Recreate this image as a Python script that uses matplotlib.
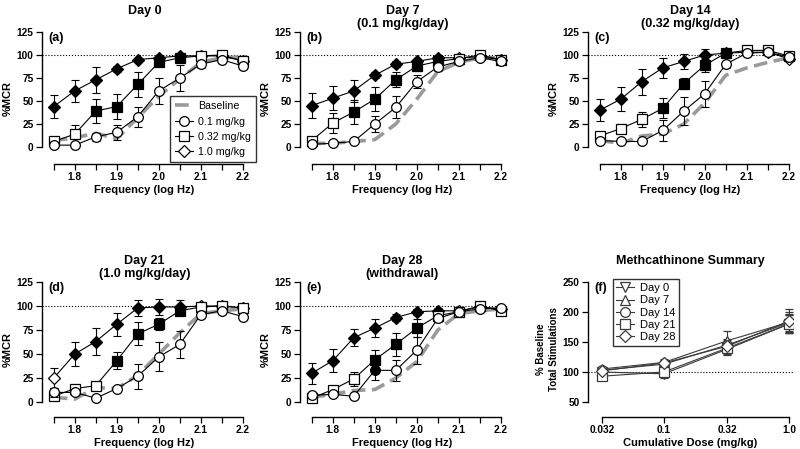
import matplotlib
matplotlib.use('Agg')
import matplotlib.pyplot as plt
from matplotlib.lines import Line2D
from matplotlib.ticker import FixedLocator, NullLocator, FixedFormatter

plt.rcParams['font.family'] = ['Liberation Sans', 'DejaVu Sans']
plt.rcParams['font.weight'] = 'bold'
plt.rcParams['axes.linewidth'] = 1.0

# frequency (log Hz)
freq = [1.75, 1.8, 1.85, 1.9, 1.95, 2.0, 2.05, 2.1, 2.15, 2.2]

# panel (a) Day 0
base_a = [7, 10, 15, 9, 32, 55, 74, 92, 97, 98]
circ_a = [2, 2, 11, 16, 33, 61, 75, 90, 95, 88]
circ_a_err = [2, 2, 4, 8, 11, 14, 14, 4, 3, 3]
circ_a_sig = [0, 0, 0, 0, 0, 0, 0, 0, 0, 0]
sq_a = [6, 14, 39, 44, 68, 92, 97, 99, 100, 93]
sq_a_err = [3, 10, 13, 14, 14, 4, 3, 3, 2, 3]
sq_a_sig = [0, 0, 1, 1, 1, 1, 1, 0, 0, 0]
dia_a = [44, 61, 73, 85, 95, 97, 99, 99, 99, 94]
dia_a_err = [12, 12, 14, 3, 2, 3, 3, 2, 2, 2]
dia_a_sig = [1, 1, 1, 1, 1, 1, 1, 0, 0, 0]

# panel (b) Day 7
base_b = [4, 4, 6, 8, 25, 52, 82, 92, 97, 97]
circ_b = [3, 4, 6, 25, 43, 71, 87, 93, 97, 93]
circ_b_err = [2, 2, 2, 9, 12, 7, 4, 3, 2, 3]
circ_b_sig = [0, 0, 0, 0, 0, 0, 0, 0, 0, 0]
sq_b = [7, 26, 38, 52, 73, 88, 93, 96, 100, 95]
sq_b_err = [3, 11, 13, 13, 8, 5, 4, 3, 2, 3]
sq_b_sig = [0, 0, 1, 1, 1, 1, 1, 0, 0, 0]
dia_b = [45, 53, 61, 78, 90, 93, 97, 97, 98, 95]
dia_b_err = [14, 13, 12, 3, 3, 3, 3, 2, 2, 2]
dia_b_sig = [1, 1, 1, 1, 1, 1, 1, 0, 0, 0]

# panel (c) Day 14
base_c = [7, 4, 12, 14, 25, 48, 78, 86, 92, 97]
circ_c = [7, 6, 6, 18, 39, 58, 90, 102, 103, 98]
circ_c_err = [2, 2, 3, 11, 15, 14, 4, 3, 3, 2]
circ_c_sig = [0, 0, 0, 0, 0, 0, 0, 0, 0, 0]
sq_c = [12, 20, 30, 42, 69, 89, 102, 105, 105, 99]
sq_c_err = [3, 5, 8, 11, 6, 7, 3, 2, 2, 2]
sq_c_sig = [0, 0, 0, 1, 1, 1, 1, 0, 0, 0]
dia_c = [40, 52, 71, 86, 93, 100, 102, 103, 103, 96]
dia_c_err = [12, 13, 14, 11, 8, 6, 3, 2, 2, 2]
dia_c_sig = [1, 1, 1, 1, 1, 1, 1, 0, 0, 0]

# panel (d) Day 21
base_d = [5, 3, 15, 14, 28, 50, 72, 92, 95, 97]
circ_d = [10, 10, 4, 14, 27, 47, 60, 91, 95, 89]
circ_d_err = [5, 3, 2, 3, 13, 15, 14, 4, 3, 3]
circ_d_sig = [0, 0, 0, 0, 0, 0, 0, 0, 0, 0]
sq_d = [6, 14, 17, 43, 71, 81, 95, 99, 100, 98]
sq_d_err = [3, 3, 3, 9, 12, 6, 4, 3, 2, 2]
sq_d_sig = [0, 0, 0, 1, 1, 1, 1, 0, 0, 0]
dia_d = [25, 50, 63, 81, 98, 99, 99, 100, 100, 98]
dia_d_err = [10, 12, 14, 12, 8, 8, 7, 3, 2, 2]
dia_d_sig = [0, 1, 1, 1, 1, 1, 1, 0, 0, 0]

# panel (e) Day 28
base_e = [5, 8, 12, 13, 25, 42, 75, 92, 95, 97]
circ_e = [7, 8, 6, 33, 33, 54, 87, 94, 97, 98]
circ_e_err = [2, 2, 3, 10, 11, 14, 4, 3, 3, 2]
circ_e_sig = [0, 0, 0, 1, 0, 0, 0, 0, 0, 0]
sq_e = [4, 13, 24, 44, 60, 77, 90, 94, 100, 95]
sq_e_err = [2, 3, 7, 10, 12, 9, 4, 3, 2, 2]
sq_e_sig = [0, 0, 0, 1, 1, 1, 0, 0, 0, 0]
dia_e = [30, 43, 67, 77, 88, 94, 95, 95, 99, 97]
dia_e_err = [11, 12, 9, 9, 4, 3, 3, 2, 2, 2]
dia_e_sig = [1, 1, 1, 1, 1, 1, 1, 0, 0, 0]

# panel (f) summary
doses = [0.032, 0.1, 0.32, 1.0]
dose_labels = ['0.032', '0.1', '0.32', '1.0']
day0 = [100, 97, 138, 180]
day0_err = [5, 6, 10, 15]
day7 = [105, 116, 152, 183]
day7_err = [4, 5, 16, 17]
day14 = [103, 113, 145, 182]
day14_err = [4, 5, 10, 14]
day21 = [93, 100, 140, 180]
day21_err = [6, 10, 10, 15]
day28 = [102, 115, 143, 185]
day28_err = [4, 5, 10, 20]

titles = ['Day 0', 'Day 7\n(0.1 mg/kg/day)', 'Day 14\n(0.32 mg/kg/day)',
          'Day 21\n(1.0 mg/kg/day)', 'Day 28\n(withdrawal)', 'Methcathinone Summary']
letters = ['(a)', '(b)', '(c)', '(d)', '(e)', '(f)']

GREY = '#9a9a9a'
W, H = 800, 449
fig = plt.figure(figsize=(8, 4.49), dpi=100)


def px_axes(left, top, bottom, width):
    return fig.add_axes([left / W, (H - bottom) / H, width / W, (bottom - top) / H])


def series(ax, y, err, sig, marker, ms, z):
    ax.plot(freq, y, '-', color='k', lw=0.8, zorder=z)
    ax.errorbar(freq, y, yerr=err, fmt='none', ecolor='k', elinewidth=0.8,
                capsize=3, capthick=0.8, zorder=z)
    for i in range(len(freq)):
        ax.plot(freq[i], y[i], marker=marker, ms=ms, mec='k', mew=0.9,
                mfc='k' if sig[i] else 'white', ls='none', zorder=z + 0.5,
                clip_on=False)


def tick_style(ax):
    ax.tick_params(axis='both', which='both', direction='out', length=4, width=0.9,
                   labelsize=7.3, pad=2)
    for lab in ax.get_xticklabels() + ax.get_yticklabels():
        lab.set_fontweight('bold')


def style_freq(ax, ybot):
    ax.set_xlim(1.722, 2.21)
    ax.set_ylim(ybot, 125)
    for s in ['top', 'right']:
        ax.spines[s].set_visible(False)
    ax.spines['left'].set_bounds(0, 125)
    ax.spines['bottom'].set_bounds(1.75, 2.2)
    ax.set_yticks([0, 25, 50, 75, 100, 125])
    ax.set_xticks([1.8, 1.9, 2.0, 2.1, 2.2])
    ax.set_xticklabels(['1.8', '1.9', '2.0', '2.1', '2.2'])
    ax.xaxis.set_minor_locator(FixedLocator([1.75, 1.85, 1.95, 2.05, 2.15]))
    tick_style(ax)
    ax.axhline(100, color='k', ls=':', lw=0.8, zorder=1)
    ax.set_xlabel('Frequency (log Hz)', fontsize=8, fontweight='bold', labelpad=2)
    ax.set_ylabel('%MCR', fontsize=8, fontweight='bold', labelpad=3)


panels = [
    (base_a, circ_a, circ_a_err, circ_a_sig, sq_a, sq_a_err, sq_a_sig, dia_a, dia_a_err, dia_a_sig),
    (base_b, circ_b, circ_b_err, circ_b_sig, sq_b, sq_b_err, sq_b_sig, dia_b, dia_b_err, dia_b_sig),
    (base_c, circ_c, circ_c_err, circ_c_sig, sq_c, sq_c_err, sq_c_sig, dia_c, dia_c_err, dia_c_sig),
    (base_d, circ_d, circ_d_err, circ_d_sig, sq_d, sq_d_err, sq_d_sig, dia_d, dia_d_err, dia_d_sig),
    (base_e, circ_e, circ_e_err, circ_e_sig, sq_e, sq_e_err, sq_e_sig, dia_e, dia_e_err, dia_e_sig),
]
lefts = [42, 300, 588]
rows = [(32, 164, -18.5), (282, 417, -15.6)]

axes = []
for k, p in enumerate(panels):
    top, bottom, ybot = rows[k // 3]
    ax = px_axes(lefts[k % 3], top, bottom, 205)
    base, c, ce, cs, s, se, ss, d, de, ds = p
    ax.plot(freq, base, color=GREY, lw=2.6, dashes=(3.8, 1.8), zorder=2)
    series(ax, d, de, ds, 'D', 6, 3)
    series(ax, s, se, ss, 's', 6.5, 4)
    series(ax, c, ce, cs, 'o', 7, 5)
    style_freq(ax, ybot)
    axes.append(ax)

# legend on panel (a)
handles = [
    Line2D([], [], color=GREY, lw=2.6, dashes=(3.8, 1.8)),
    Line2D([], [], color='k', lw=0.8, marker='o', ms=7, mfc='white', mec='k', mew=0.9),
    Line2D([], [], color='k', lw=0.8, marker='s', ms=6.5, mfc='white', mec='k', mew=0.9),
    Line2D([], [], color='k', lw=0.8, marker='D', ms=6, mfc='white', mec='k', mew=0.9),
]
leg = axes[0].legend(handles, ['Baseline', '0.1 mg/kg', '0.32 mg/kg', '1.0 mg/kg'],
                     loc='lower right', bbox_to_anchor=(1.044, 0.015),
                     prop={'size': 7.7, 'weight': 'normal'}, frameon=True, fancybox=False,
                     edgecolor='k', handlelength=1.7, borderpad=0.45, labelspacing=0.5,
                     handletextpad=0.5, borderaxespad=0)
leg.get_frame().set_linewidth(1.0)
leg.set_zorder(10)

# panel (f)
axf = px_axes(588, 282, 417, 205)
summ = [(day0, day0_err, 'v'), (day7, day7_err, '^'), (day14, day14_err, 'o'),
        (day21, day21_err, 's'), (day28, day28_err, 'D')]
day_names = ['Day 0', 'Day 7', 'Day 14', 'Day 21', 'Day 28']
fh = []
for y, e, m in summ:
    axf.errorbar(doses, y, yerr=e, fmt='-', color='#3a3a3a', lw=0.8, elinewidth=0.8,
                 capsize=3, capthick=0.8, marker=m, ms=7 if m != 'D' else 6,
                 mfc='white', mec='#3a3a3a', mew=0.9, zorder=3)
    fh.append(Line2D([], [], color='#3a3a3a', lw=0.8, marker=m, ms=7 if m != 'D' else 6,
                     mfc='white', mec='#3a3a3a', mew=0.9))
axf.set_xscale('log')
axf.set_xlim(0.0247, 1.076)
axf.set_ylim(25, 250)
for s in ['top', 'right']:
    axf.spines[s].set_visible(False)
axf.spines['left'].set_bounds(50, 250)
axf.spines['bottom'].set_bounds(0.032, 1.0)
axf.xaxis.set_major_locator(FixedLocator(doses))
axf.xaxis.set_major_formatter(FixedFormatter(dose_labels))
axf.xaxis.set_minor_locator(NullLocator())
axf.set_yticks([50, 100, 150, 200, 250])
tick_style(axf)
axf.axhline(100, color='k', ls=':', lw=0.8, zorder=1)
axf.set_xlabel('Cumulative Dose (mg/kg)', fontsize=8, fontweight='bold', labelpad=2)
axf.set_ylabel('% Baseline\nTotal Stimulations', fontsize=7, fontweight='bold',
               labelpad=3, linespacing=1.3)
legf = axf.legend(fh, day_names, loc='upper left', bbox_to_anchor=(0.12, 1.02),
                  prop={'size': 8, 'weight': 'normal'}, frameon=True, fancybox=False,
                  edgecolor='k', handlelength=1.6, borderpad=0.35, labelspacing=0.2,
                  handletextpad=0.5, borderaxespad=0)
legf.get_frame().set_linewidth(1.0)
axes.append(axf)

for ax, t, l in zip(axes, titles, letters):
    ax.annotate(t, xy=(0.5, 1), xycoords='axes fraction', xytext=(0, 19.5),
                textcoords='offset points', ha='center', va='top', fontsize=9,
                fontweight='bold', linespacing=1.15)
    ax.text(0.03, 1.0, l, transform=ax.transAxes, ha='left', va='top', fontsize=9,
            fontweight='bold')

fig.savefig('out.png', dpi=100)
